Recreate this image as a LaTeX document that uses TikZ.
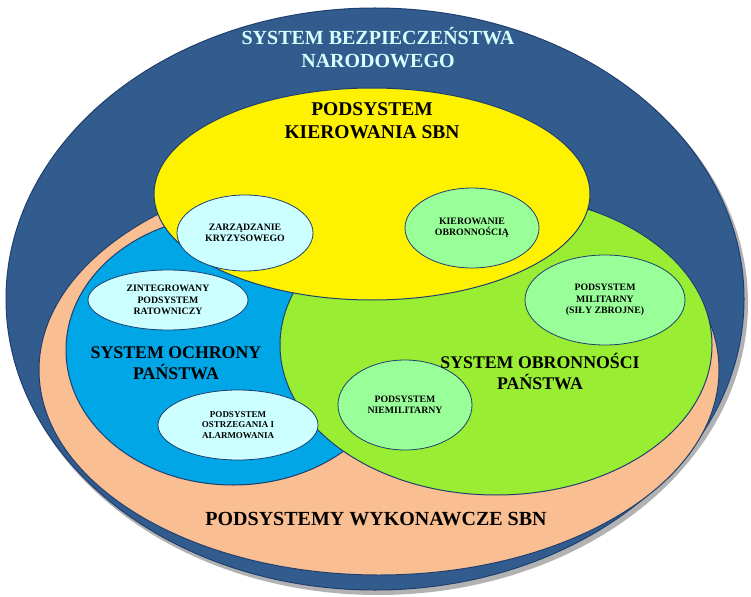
\documentclass[tikz,border=0pt]{standalone}
\usepackage{fontspec}
\setmainfont{Liberation Serif}
\definecolor{outerblue}{HTML}{335C8E}
\definecolor{peach}{HTML}{F9BE91}
\definecolor{sblue}{HTML}{00A6E6}
\definecolor{sgreen}{HTML}{99EE33}
\definecolor{lcyan}{HTML}{CCFFFF}
\definecolor{lgreen}{HTML}{99FF99}
\definecolor{edge}{HTML}{1F3F6F}
\begin{document}
\begin{tikzpicture}[x=1pt,y=-1pt,
  big/.style={draw=edge,line width=1pt},
  small/.style={draw=edge,line width=0.8pt},
  lbl/.style={font=\bfseries,align=center,inner sep=0pt},
  slbl/.style={font=\bfseries\fontsize{9.8}{11.5}\selectfont,align=center,inner sep=0pt}]
\useasboundingbox (0,0) rectangle (751,596);
\fill[gray!60] (378,303) ellipse [x radius=370,y radius=292];
\draw[big,fill=outerblue] (375,299) ellipse [x radius=369,y radius=291];
\draw[big,fill=peach] (379,370) ellipse [x radius=340,y radius=205];
\draw[big,fill=sblue] (233,350) ellipse [x radius=167,y radius=135];
\draw[big,fill=sgreen] (496,345) ellipse [x radius=216,y radius=150];
\draw[big,fill=yellow] (372,194) ellipse [x radius=218,y radius=106];
\draw[small,fill=lcyan] (245,233) ellipse [x radius=68,y radius=38];
\draw[small,fill=lgreen] (472,228) ellipse [x radius=67,y radius=40];
\draw[small,fill=lcyan] (168,300) ellipse [x radius=80,y radius=30];
\draw[small,fill=lgreen] (605,300) ellipse [x radius=80,y radius=45];
\draw[small,fill=lgreen] (405,405) ellipse [x radius=67,y radius=45];
\draw[small,fill=lcyan] (238,425) ellipse [x radius=80,y radius=35];
\node[lbl,text=lcyan!80!white,font=\bfseries\fontsize{20}{23}\selectfont] (sbn) at (378,48) {SYSTEM BEZPIECZEŃSTWA\\NARODOWEGO};
\node[lbl,font=\bfseries\fontsize{19.5}{23}\selectfont] (kier) at (372,121) {PODSYSTEM\\KIEROWANIA SBN};
\node[slbl] (zarz) at (245,233) {ZARZĄDZANIE\\KRYZYSOWEGO};
\node[slbl] (obr) at (472,228) {KIEROWANIE\\OBRONNOŚCIĄ};
\node[slbl] (zint) at (168,300) {ZINTEGROWANY\\PODSYSTEM\\RATOWNICZY};
\node[slbl] (mil) at (605,300) {PODSYSTEM\\MILITARNY\\(SIŁY ZBROJNE)};
\node[slbl] (niem) at (405,405) {PODSYSTEM\\NIEMILITARNY};
\node[slbl,font=\bfseries\fontsize{9}{10.5}\selectfont] (ostr) at (238,425) {PODSYSTEM\\OSTRZEGANIA I\\ALARMOWANIA};
\node[lbl,font=\bfseries\fontsize{17.8}{21}\selectfont] (ochr) at (176,363) {SYSTEM OCHRONY\\PAŃSTWA};
\node[lbl,font=\bfseries\fontsize{17.8}{21}\selectfont] (sobr) at (540,371) {SYSTEM OBRONNOŚCI\\PAŃSTWA};
\node[lbl,font=\bfseries\fontsize{20}{23}\selectfont] (wyk) at (376,519) {PODSYSTEMY WYKONAWCZE SBN};
\end{tikzpicture}
\end{document}
